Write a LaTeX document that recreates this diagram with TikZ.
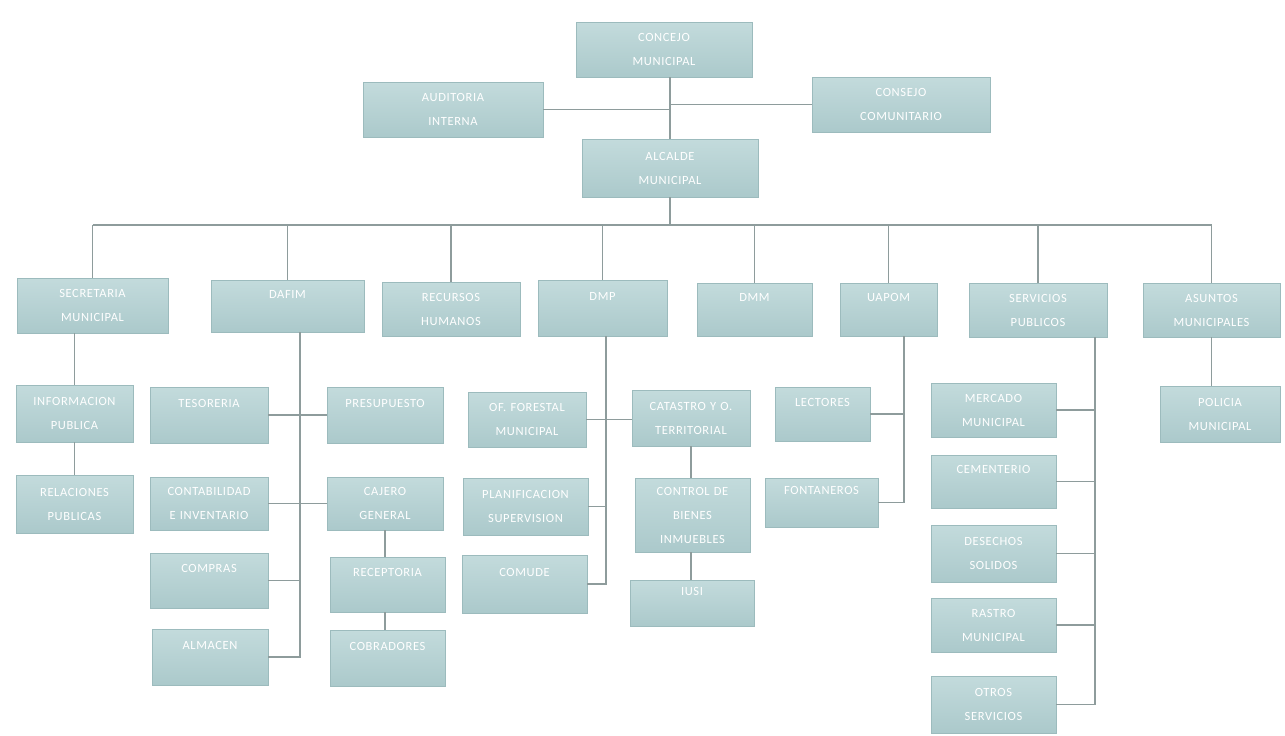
\documentclass[tikz,border=0pt]{standalone}
\usepackage{fontspec}
\setmainfont{Carlito}[LetterSpace=5]
\definecolor{boxtop}{HTML}{C3DBDC}
\definecolor{boxbot}{HTML}{ABC9CB}
\definecolor{boxedge}{HTML}{9CBBBD}
\definecolor{linec}{HTML}{8E9C9C}
\tikzset{
  orgbox/.style={draw=boxedge, line width=0.8pt, top color=boxtop, bottom color=boxbot,
    text=white, align=center, inner sep=1pt,
    font=\fontsize{12.5}{24}\selectfont},
  conn/.style={draw=linec, line width=1.6pt}
}
\newcommand{\bx}[6]{%
  \node[orgbox, minimum width={#4-#2}, minimum height={#5-#3}, text width={#4-#2-2}]
    (#1) at ({(#2+#4)/2},{(#3+#5)/2}) {#6};}
\begin{document}
\begin{tikzpicture}[x=1pt,y=-1pt]
\useasboundingbox (0,0) rectangle (1285,736);
% top level
\bx{conc}{576}{22}{752}{77}{CONCEJO\\MUNICIPAL}
\bx{aud}{363}{82}{543}{137}{AUDITORIA\\INTERNA}
\bx{cc}{812}{77}{990}{132}{CONSEJO\\COMUNITARIO}
\bx{alc}{582}{139}{758}{197}{ALCALDE\\MUNICIPAL}
% level 2
\bx{sec}{17}{278}{168}{333}{SECRETARIA\\MUNICIPAL}
\bx{daf}{211}{280}{364}{332}{DAFIM\\\mbox{}}
\bx{rh}{382}{282}{520}{336}{RECURSOS\\HUMANOS}
\bx{dmp}{538}{280}{667}{336}{DMP\\\mbox{}}
\bx{dmm}{697}{283}{812}{336}{DMM\\\mbox{}}
\bx{uap}{840}{283}{937}{336}{UAPOM\\\mbox{}}
\bx{ser}{969}{283}{1107}{337}{SERVICIOS\\PUBLICOS}
\bx{asu}{1143}{283}{1280}{337}{ASUNTOS\\MUNICIPALES}
% secretaria
\bx{inf}{16}{385}{133}{442}{INFORMACION\\PUBLICA}
\bx{rel}{16}{475}{133}{533}{RELACIONES\\PUBLICAS}
% dafim
\bx{tes}{150}{387}{268}{443}{TESORERIA\\\mbox{}}
\bx{cont}{150}{477}{268}{530}{CONTABILIDAD\\E INVENTARIO}
\bx{comp}{150}{553}{268}{608}{COMPRAS\\\mbox{}}
\bx{alm}{152}{629}{268}{685}{ALMACEN\\\mbox{}}
\bx{pre}{327}{387}{443}{443}{PRESUPUESTO\\\mbox{}}
\bx{caj}{327}{477}{443}{530}{CAJERO\\GENERAL}
\bx{rec}{330}{557}{445}{612}{RECEPTORIA\\\mbox{}}
\bx{cob}{330}{630}{445}{686}{COBRADORES\\\mbox{}}
% dmp
\bx{ofo}{468}{392}{586}{447}{OF. FORESTAL\\MUNICIPAL}
\bx{pla}{463}{478}{588}{535}{PLANIFICACION\\SUPERVISION}
\bx{cmd}{462}{555}{587}{613}{COMUDE\\\mbox{}}
\bx{cat}{632}{390}{750}{446}{CATASTRO Y O.\\TERRITORIAL}
\bx{cbi}{635}{478}{750}{552}{CONTROL DE\\BIENES\\INMUEBLES}
\bx{ius}{630}{580}{754}{626}{IUSI\\\mbox{}}
% uapom
\bx{lec}{775}{387}{870}{441}{LECTORES\\\mbox{}}
\bx{fon}{765}{478}{878}{527}{FONTANEROS\\\mbox{}}
% servicios
\bx{mer}{931}{383}{1056}{437}{MERCADO\\MUNICIPAL}
\bx{cem}{931}{455}{1056}{508}{CEMENTERIO\\\mbox{}}
\bx{des}{931}{525}{1056}{582}{DESECHOS\\SOLIDOS}
\bx{ras}{931}{598}{1056}{652}{RASTRO\\MUNICIPAL}
\bx{otr}{931}{676}{1056}{733}{OTROS\\SERVICIOS}
% asuntos
\bx{pol}{1160}{386}{1280}{442}{POLICIA\\MUNICIPAL}

% connectors top
\coordinate (tv) at (670,0);
\draw[conn] (tv |- conc.south) -- (tv |- alc.north);
\draw[conn] (aud.east) -- (aud.east -| tv);
\draw[conn] (cc.west) -- (cc.west -| tv);
% bus
\coordinate (bus) at (0,225);
\draw[conn] (alc.south) -- (alc.south |- bus);
\draw[conn] (sec.north |- bus) -- (asu.north |- bus);
\foreach \n in {sec,daf,rh,dmp,dmm,uap,ser,asu}
  \draw[conn] (\n.north) -- (\n.north |- bus);
% secretaria
\draw[conn] (sec.south -| inf.north) -- (inf.north);
\draw[conn] (inf.south) -- (rel.north);
% dafim
\coordinate (dv) at (300,0);
\draw[conn] (dv |- daf.south) -- (dv |- alm.east) -- (alm.east);
\draw[conn] (tes.east) -- (pre.west);
\draw[conn] (cont.east) -- (caj.west);
\draw[conn] (comp.east) -- (comp.east -| dv);
\draw[conn] (caj.south) -- (caj.south |- rec.north);
\draw[conn] (caj.south |- rec.south) -- (caj.south |- cob.north);
% dmp
\coordinate (mv) at (606,0);
\draw[conn] (mv |- dmp.south) -- (mv |- cmd.east) -- (cmd.east);
\draw[conn] (ofo.east) -- (ofo.east -| cat.west);
\draw[conn] (pla.east) -- (pla.east -| mv);
\draw[conn] (cat.south) -- (cat.south |- cbi.north);
\draw[conn] (cat.south |- cbi.south) -- (cat.south |- ius.north);
% uapom
\coordinate (uv) at (904,0);
\draw[conn] (uv |- uap.south) -- (uv |- fon.east) -- (fon.east);
\draw[conn] (lec.east) -- (lec.east -| uv);
% servicios
\coordinate (sv) at (1095,0);
\draw[conn] (sv |- ser.south) -- (sv |- otr.east) -- (otr.east);
\foreach \n in {mer,cem,des,ras}
  \draw[conn] (\n.east) -- (\n.east -| sv);
% asuntos
\draw[conn] (asu.south) -- (asu.south |- pol.north);
\end{tikzpicture}
\end{document}
